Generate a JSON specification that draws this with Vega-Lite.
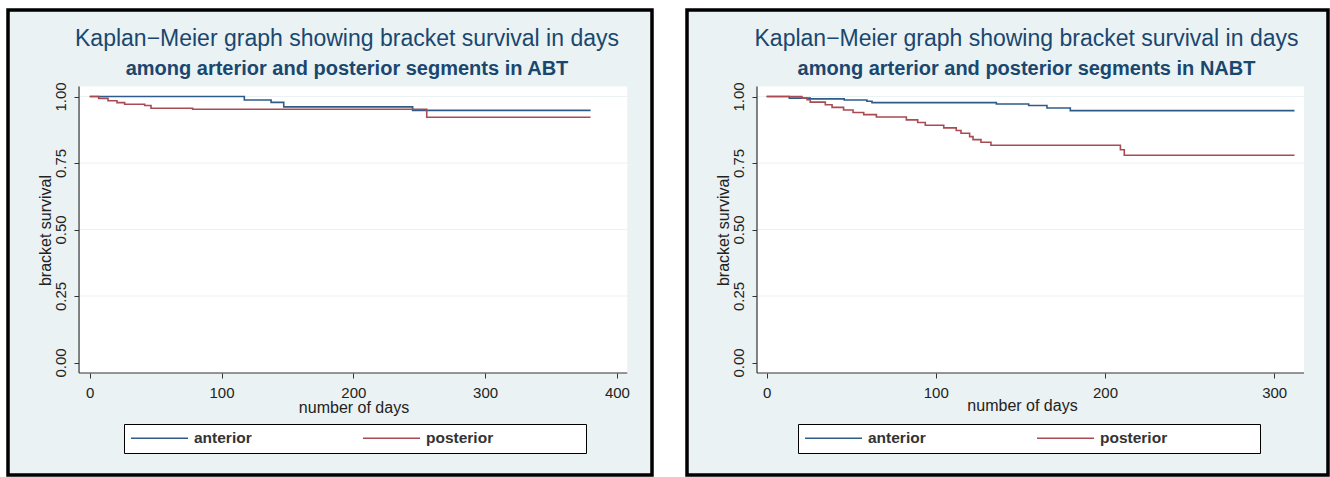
{
  "$schema": "https://vega.github.io/schema/vega-lite/v6.json",
  "background": "white",
  "padding": {"left": 6, "top": 8, "right": 0, "bottom": 0},
  "config": {
    "font": "Liberation Sans",
    "view": {"fill": "#eaf2f3", "stroke": "#000000", "strokeWidth": 3.5},
    "concat": {"spacing": 31},
    "axis": {
      "domain": false, "grid": false, "tickSize": 5, "tickColor": "#333333", "tickWidth": 1,
      "labelFontSize": 15, "labelColor": "#222222", "labelFlush": false, "labelOverlap": false,
      "titleFontSize": 16, "titleFontWeight": "normal", "titleColor": "#222222"
    },
    "axisX": {"labelPadding": 7, "titlePadding": -3},
    "axisY": {"labelPadding": 9, "titlePadding": 0},
    "legend": {
      "orient": "none", "direction": "horizontal", "padding": 6,
      "strokeColor": "#000000", "fillColor": "#ffffff",
      "symbolType": "stroke", "symbolSize": 3249, "symbolStrokeWidth": 1.5, "clipHeight": 16,
      "labelFontSize": 15.5, "labelFontWeight": "bold", "labelColor": "#333333", "labelOffset": 5,
      "columnPadding": 110, "titleOrient": "right", "titlePadding": 83, "titleOpacity": 0, "titleFontSize": 12
    },
    "title": {
      "anchor": "middle", "frame": "group", "offset": -69,
      "fontSize": 23, "fontWeight": "normal", "color": "#1a476f",
      "subtitleFontSize": 20, "subtitleFontWeight": "bold", "subtitleColor": "#1a476f", "subtitlePadding": 8
    }
  },
  "resolve": {
    "scale": {"x": "independent", "y": "independent", "color": "independent"},
    "axis": {"x": "independent", "y": "independent"},
    "legend": {"color": "independent"}
  },
  "datasets": {
    "abt": [
      {"group": "anterior", "day": 0, "surv": 1},
      {"group": "anterior", "day": 117.3, "surv": 0.987},
      {"group": "anterior", "day": 137.6, "surv": 0.978},
      {"group": "anterior", "day": 147.2, "surv": 0.961},
      {"group": "anterior", "day": 245, "surv": 0.948},
      {"group": "anterior", "day": 380, "surv": 0.948},
      {"group": "posterior", "day": 0, "surv": 1},
      {"group": "posterior", "day": 6.8, "surv": 0.993},
      {"group": "posterior", "day": 13.9, "surv": 0.984},
      {"group": "posterior", "day": 20.7, "surv": 0.977},
      {"group": "posterior", "day": 26.5, "surv": 0.971},
      {"group": "posterior", "day": 41.7, "surv": 0.966},
      {"group": "posterior", "day": 46.5, "surv": 0.956},
      {"group": "posterior", "day": 78.1, "surv": 0.952},
      {"group": "posterior", "day": 255.7, "surv": 0.922},
      {"group": "posterior", "day": 380, "surv": 0.922}
    ],
    "nabt": [
      {"group": "anterior", "day": 0, "surv": 1},
      {"group": "anterior", "day": 13.4, "surv": 0.994},
      {"group": "anterior", "day": 25.8, "surv": 0.991},
      {"group": "anterior", "day": 45.9, "surv": 0.987},
      {"group": "anterior", "day": 59.3, "surv": 0.982},
      {"group": "anterior", "day": 62.3, "surv": 0.977},
      {"group": "anterior", "day": 135.8, "surv": 0.972},
      {"group": "anterior", "day": 154.9, "surv": 0.966},
      {"group": "anterior", "day": 165.7, "surv": 0.957},
      {"group": "anterior", "day": 179.5, "surv": 0.947},
      {"group": "anterior", "day": 312, "surv": 0.947},
      {"group": "posterior", "day": 0, "surv": 1},
      {"group": "posterior", "day": 20.9, "surv": 0.994},
      {"group": "posterior", "day": 23.9, "surv": 0.988},
      {"group": "posterior", "day": 25.8, "surv": 0.979},
      {"group": "posterior", "day": 34.7, "surv": 0.969},
      {"group": "posterior", "day": 38.7, "surv": 0.959},
      {"group": "posterior", "day": 45.5, "surv": 0.949},
      {"group": "posterior", "day": 51.1, "surv": 0.94},
      {"group": "posterior", "day": 57.4, "surv": 0.932},
      {"group": "posterior", "day": 64.9, "surv": 0.923},
      {"group": "posterior", "day": 82.6, "surv": 0.912},
      {"group": "posterior", "day": 89.3, "surv": 0.902},
      {"group": "posterior", "day": 93.8, "surv": 0.892},
      {"group": "posterior", "day": 104.7, "surv": 0.882},
      {"group": "posterior", "day": 112.1, "surv": 0.872},
      {"group": "posterior", "day": 114.9, "surv": 0.862},
      {"group": "posterior", "day": 120, "surv": 0.849},
      {"group": "posterior", "day": 122, "surv": 0.838},
      {"group": "posterior", "day": 126.7, "surv": 0.828},
      {"group": "posterior", "day": 132.6, "surv": 0.817},
      {"group": "posterior", "day": 209.1, "surv": 0.8},
      {"group": "posterior", "day": 211.4, "surv": 0.779},
      {"group": "posterior", "day": 312, "surv": 0.779}
    ]
  },
  "hconcat": [
    {
      "width": 644, "height": 465,
      "title": {"text": "Kaplan−Meier graph showing bracket survival in days", "subtitle": "among arterior and posterior segments in ABT", "dx": 17},
      "layer": [
        {
          "data": {"values": [{}]},
          "mark": {"type": "rect", "fill": "#ffffff"},
          "encoding": {
            "x": {"datum": -8.1, "type": "quantitative", "scale": {"domain": [-62, 426.6], "nice": false, "zero": false},
                  "axis": {"values": [0, 100, 200, 300, 400], "offset": -102, "title": "number of days", "titleX": 345.5, "titlePadding": -1}},
            "x2": {"datum": 407.8},
            "y": {"datum": -0.0395, "type": "quantitative", "scale": {"domain": [-0.4229, 1.3252], "nice": false, "zero": false},
                  "axis": {"values": [0, 0.25, 0.5, 0.75, 1], "format": ".2f", "offset": -71, "title": "bracket survival", "titleY": 220,
                           "labelAngle": 270, "labelAlign": "center", "labelBaseline": "alphabetic"}},
            "y2": {"datum": 1.0376}
          }
        },
        {
          "data": {"values": [{"g": 0.25}, {"g": 0.5}, {"g": 0.75}, {"g": 1}]},
          "mark": {"type": "rule", "color": "#eaf2f3", "strokeWidth": 1.2},
          "encoding": {
            "y": {"field": "g", "type": "quantitative"},
            "x": {"datum": -8.1, "type": "quantitative"},
            "x2": {"datum": 407.8}
          }
        },
        {
          "data": {"values": [{}]},
          "mark": {"type": "rule", "color": "#333333", "strokeWidth": 1.2},
          "encoding": {
            "x": {"datum": -8.1, "type": "quantitative"},
            "x2": {"datum": 407.8},
            "y": {"datum": -0.0395, "type": "quantitative"}
          }
        },
        {
          "data": {"values": [{}]},
          "mark": {"type": "rule", "color": "#333333", "strokeWidth": 1.2},
          "encoding": {
            "x": {"datum": -8.1, "type": "quantitative"},
            "y": {"datum": -0.0395, "type": "quantitative"},
            "y2": {"datum": 1.0376}
          }
        },
        {
          "data": {"name": "abt"},
          "mark": {"type": "line", "interpolate": "step-after", "strokeWidth": 1.6},
          "encoding": {
            "x": {"field": "day", "type": "quantitative"},
            "y": {"field": "surv", "type": "quantitative"},
            "color": {"field": "group", "type": "nominal",
                      "scale": {"domain": ["anterior", "posterior"], "range": ["#2e5c8a", "#a84b52"]},
                      "legend": {"legendX": 116, "legendY": 414, "title": "."}}
          }
        }
      ]
    },
    {
      "width": 641, "height": 465,
      "title": {"text": "Kaplan−Meier graph showing bracket survival in days", "subtitle": "among arterior and posterior segments in NABT", "dx": 19},
      "layer": [
        {
          "data": {"values": [{}]},
          "mark": {"type": "rect", "fill": "#ffffff"},
          "encoding": {
            "x": {"datum": -5.67, "type": "quantitative", "scale": {"domain": [-47.04, 331.8], "nice": false, "zero": false},
                  "axis": {"values": [0, 100, 200, 300], "offset": -102, "title": "number of days", "titleX": 335}},
            "x2": {"datum": 317.6},
            "y": {"datum": -0.0395, "type": "quantitative", "scale": {"domain": [-0.4229, 1.3252], "nice": false, "zero": false},
                  "axis": {"values": [0, 0.25, 0.5, 0.75, 1], "format": ".2f", "offset": -70, "title": "bracket survival", "titleY": 220,
                           "labelAngle": 270, "labelAlign": "center", "labelBaseline": "alphabetic"}},
            "y2": {"datum": 1.0376}
          }
        },
        {
          "data": {"values": [{"g": 0.25}, {"g": 0.5}, {"g": 0.75}, {"g": 1}]},
          "mark": {"type": "rule", "color": "#eaf2f3", "strokeWidth": 1.2},
          "encoding": {
            "y": {"field": "g", "type": "quantitative"},
            "x": {"datum": -5.67, "type": "quantitative"},
            "x2": {"datum": 317.6}
          }
        },
        {
          "data": {"values": [{}]},
          "mark": {"type": "rule", "color": "#333333", "strokeWidth": 1.2},
          "encoding": {
            "x": {"datum": -5.67, "type": "quantitative"},
            "x2": {"datum": 317.6},
            "y": {"datum": -0.0395, "type": "quantitative"}
          }
        },
        {
          "data": {"values": [{}]},
          "mark": {"type": "rule", "color": "#333333", "strokeWidth": 1.2},
          "encoding": {
            "x": {"datum": -5.67, "type": "quantitative"},
            "y": {"datum": -0.0395, "type": "quantitative"},
            "y2": {"datum": 1.0376}
          }
        },
        {
          "data": {"name": "nabt"},
          "mark": {"type": "line", "interpolate": "step-after", "strokeWidth": 1.6},
          "encoding": {
            "x": {"field": "day", "type": "quantitative"},
            "y": {"field": "surv", "type": "quantitative"},
            "color": {"field": "group", "type": "nominal",
                      "scale": {"domain": ["anterior", "posterior"], "range": ["#2e5c8a", "#a84b52"]},
                      "legend": {"legendX": 111, "legendY": 414, "title": "."}}
          }
        }
      ]
    }
  ]
}
